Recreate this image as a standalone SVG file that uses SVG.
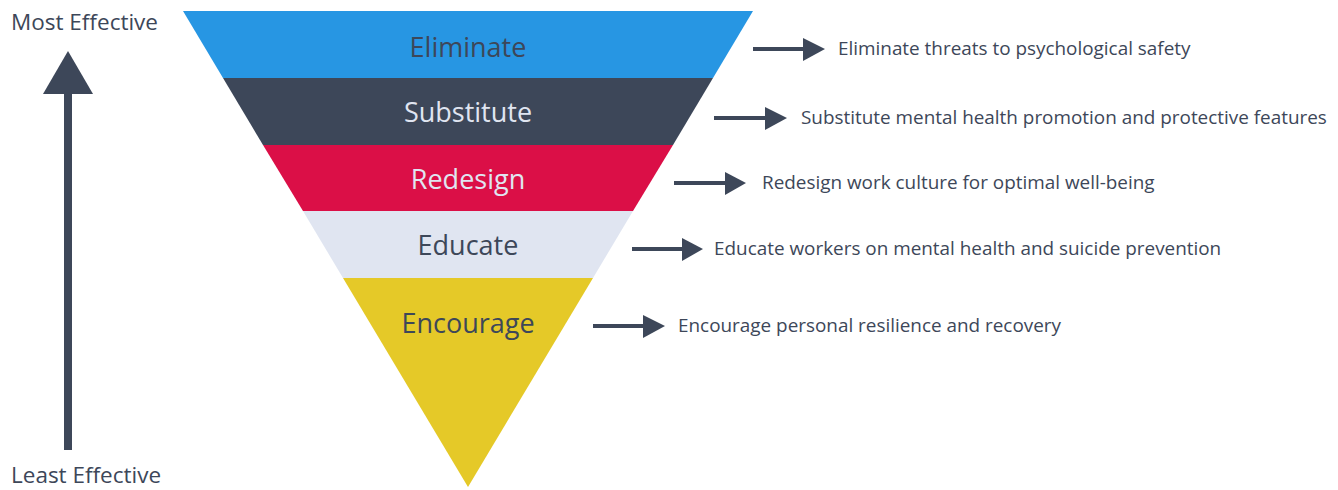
<svg xmlns="http://www.w3.org/2000/svg" width="1338" height="490" viewBox="0 0 1338 490">
<style>
.lbl{font-family:"Open Sans","Liberation Sans",sans-serif;font-size:27px;text-anchor:middle}
.dsc{font-family:"Open Sans","Liberation Sans",sans-serif;font-size:18.9px;fill:#3D4759}
.side{font-family:"Open Sans","Liberation Sans",sans-serif;font-size:22.5px;fill:#3D4759}
.ln{stroke:#3D4759;stroke-width:4;fill:none}
.hd{fill:#3D4759}
</style>
<rect width="1338" height="490" fill="#FFFFFF"/>
<g id="scale">
<rect x="64" y="92" width="8" height="358" fill="#3D4759"/>
<polygon points="68,51 93,94 43,94" fill="#3D4759"/>
<text class="side" x="11" y="30">Most Effective</text>
<text class="side" x="11" y="483">Least Effective</text>
</g>
<g id="eliminate">
<polygon points="183,11 753,11 713,78 223,78" fill="#2796E3"/>
<text class="lbl" x="468" y="57" fill="#3D4759">Eliminate</text>
</g>
<g id="substitute">
<polygon points="223,78 713,78 673,145 263,145" fill="#3D4759"/>
<text class="lbl" x="468" y="122" fill="#E0E5F1">Substitute</text>
</g>
<g id="redesign">
<polygon points="263,145 673,145 633,211 303,211" fill="#DB0F47"/>
<text class="lbl" x="468" y="189" fill="#E0E5F1">Redesign</text>
</g>
<g id="educate">
<polygon points="303,211 633,211 593,278 343,278" fill="#E0E5F1"/>
<text class="lbl" x="468" y="255" fill="#3D4759">Educate</text>
</g>
<g id="encourage">
<polygon points="343,278 593,278 468,487" fill="#E5C928"/>
<text class="lbl" x="468" y="333" fill="#3D4759">Encourage</text>
</g>
<g id="connectors">
<line class="ln" x1="753" y1="49" x2="805" y2="49"/><polygon class="hd" points="803,38 825,49 803,61"/>
<line class="ln" x1="714" y1="118" x2="767" y2="118"/><polygon class="hd" points="765,107 787,118 765,130"/>
<line class="ln" x1="674" y1="183" x2="727" y2="183"/><polygon class="hd" points="725,172 746,183 725,195"/>
<line class="ln" x1="632" y1="249" x2="684" y2="249"/><polygon class="hd" points="682,238 703,249 682,261"/>
<line class="ln" x1="593" y1="326" x2="645" y2="326"/><polygon class="hd" points="643,315 665,326 643,338"/>
</g>
<g id="descriptions">
<text class="dsc" x="838" y="55">Eliminate threats to psychological safety</text>
<text class="dsc" x="801" y="124">Substitute mental health promotion and protective features</text>
<text class="dsc" x="762" y="189">Redesign work culture for optimal well-being</text>
<text class="dsc" x="714" y="255">Educate workers on mental health and suicide prevention</text>
<text class="dsc" x="678" y="332">Encourage personal resilience and recovery</text>
</g>
</svg>
